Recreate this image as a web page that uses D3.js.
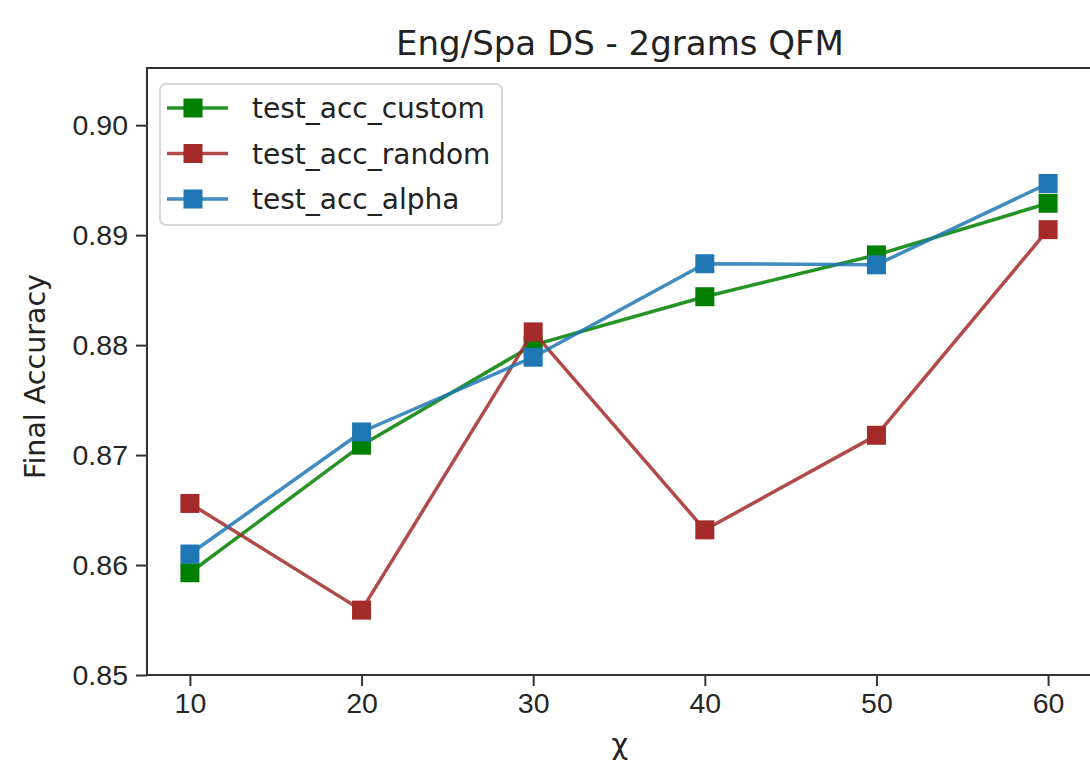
<!DOCTYPE html>
<html>
<head>
<meta charset="utf-8">
<script src="https://cdn.jsdelivr.net/npm/d3@7"></script>
<style>
  body { margin: 0; background: #fff; }
  svg { display: block; font-family: "DejaVu Sans", sans-serif; }
  .axis path, .axis line { stroke: #333; stroke-width: 2; }
  .axis text { fill: #262626; font-size: 28.5px; }
</style>
</head>
<body>
<svg id="chart" width="1090" height="762"></svg>
<script>
const xValues = [10, 20, 30, 40, 50, 60];
const customAcc = [0.8593, 0.8709, 0.8800, 0.8844, 0.8882, 0.8929];
const randomAcc = [0.8656, 0.8559, 0.8812, 0.8632, 0.8718, 0.8905];
const alphaAcc = [0.8610, 0.8721, 0.8789, 0.8874, 0.8873, 0.8947];
const yTicks = [0.85, 0.86, 0.87, 0.88, 0.89, 0.90];
const xTicks = [10, 20, 30, 40, 50, 60];

const series = [
  { name: "test_acc_custom", values: customAcc, color: "#008000" },
  { name: "test_acc_random", values: randomAcc, color: "#a52a2a" },
  { name: "test_acc_alpha", values: alphaAcc, color: "#1f77b4" },
];

const margin = { top: 68, right: -1, bottom: 87, left: 147 };
const svg = d3.select("#chart");
const width = +svg.attr("width") - margin.left - margin.right;
const height = +svg.attr("height") - margin.top - margin.bottom;

const x = d3.scaleLinear().domain([7.5, 62.5]).range([0, width]);
const y = d3.scaleLinear().domain([0.85, 0.9052]).range([height, 0]);

const g = svg.append("g").attr("transform", `translate(${margin.left},${margin.top})`);

// frame
g.append("rect")
  .attr("width", width)
  .attr("height", height)
  .attr("fill", "none")
  .attr("stroke", "#333")
  .attr("stroke-width", 2);

g.append("g")
  .attr("class", "axis")
  .attr("transform", `translate(0,${height})`)
  .call(d3.axisBottom(x).tickValues(xTicks).tickSize(11).tickPadding(7).tickSizeOuter(0))
  .call((a) => a.select(".domain").remove());

g.append("g")
  .attr("class", "axis")
  .call(d3.axisLeft(y).tickValues(yTicks).tickFormat(d3.format(".2f")).tickSize(11).tickPadding(8).tickSizeOuter(0))
  .call((a) => a.select(".domain").remove());

const line = d3.line()
  .x((d, i) => x(xValues[i]))
  .y((d) => y(d));

const markerSize = 19;
series.forEach((s) => {
  g.append("path")
    .datum(s.values)
    .attr("fill", "none")
    .attr("stroke", s.color)
    .attr("stroke-opacity", 0.85)
    .attr("stroke-width", 3.5)
    .attr("d", line);
  g.selectAll(null)
    .data(s.values)
    .join("rect")
    .attr("x", (d, i) => x(xValues[i]) - markerSize / 2)
    .attr("y", (d) => y(d) - markerSize / 2)
    .attr("width", markerSize)
    .attr("height", markerSize)
    .attr("fill", s.color);
});

// title and labels
svg.append("text")
  .attr("x", 620)
  .attr("y", 55)
  .attr("text-anchor", "middle")
  .attr("font-size", 34)
  .attr("fill", "#222")
  .text("Eng/Spa DS - 2grams QFM");

svg.append("text")
  .attr("x", 620)
  .attr("y", 754)
  .attr("text-anchor", "middle")
  .attr("font-size", 29)
  .attr("fill", "#222")
  .text("χ");

svg.append("text")
  .attr("transform", `translate(45,${margin.top + height / 2 + 5}) rotate(-90)`)
  .attr("text-anchor", "middle")
  .attr("font-size", 28.5)
  .attr("fill", "#222")
  .text("Final Accuracy");

// legend
const legend = g.append("g").attr("transform", "translate(13,16)");
legend.append("rect")
  .attr("width", 342)
  .attr("height", 141)
  .attr("rx", 6)
  .attr("fill", "#fff")
  .attr("fill-opacity", 0.8)
  .attr("stroke", "#d8d8d8")
  .attr("stroke-width", 2);

series.forEach((s, i) => {
  const row = legend.append("g").attr("transform", `translate(0,${24 + i * 45.5})`);
  row.append("line")
    .attr("x1", 7).attr("x2", 68)
    .attr("stroke", s.color)
    .attr("stroke-opacity", 0.85)
    .attr("stroke-width", 3.5);
  row.append("rect")
    .attr("x", 33 - markerSize / 2)
    .attr("y", -markerSize / 2)
    .attr("width", markerSize)
    .attr("height", markerSize)
    .attr("fill", s.color);
  row.append("text")
    .attr("x", 92)
    .attr("y", 10)
    .attr("font-size", 28)
    .attr("fill", "#222")
    .text(s.name);
});
</script>
</body>
</html>
